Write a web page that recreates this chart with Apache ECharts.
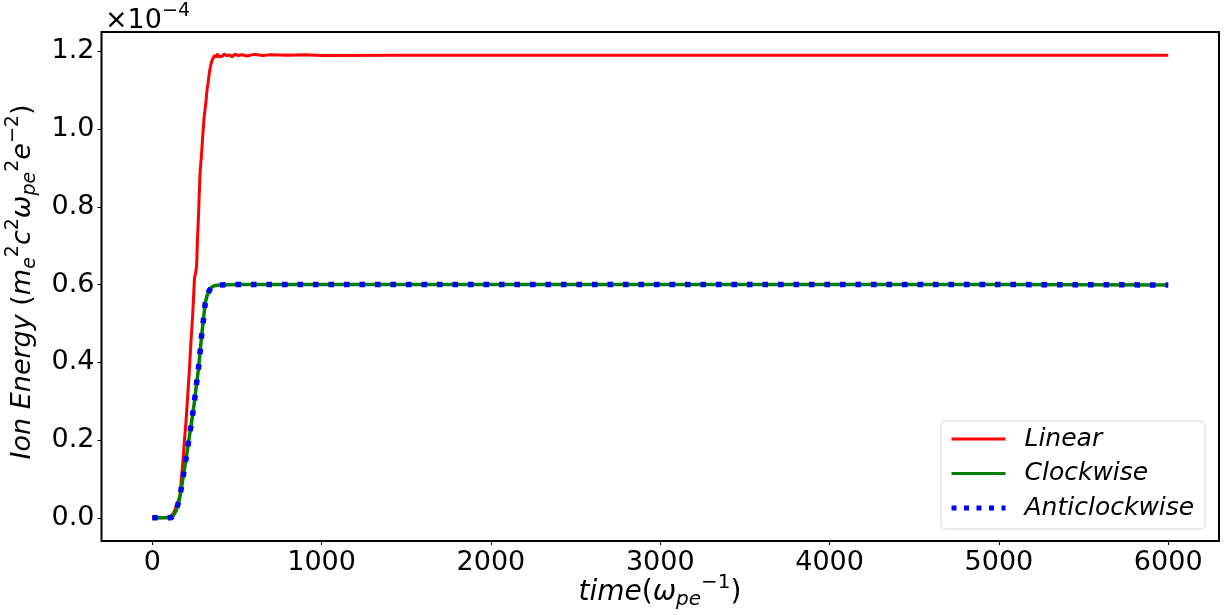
<!DOCTYPE html>
<html>
<head>
<meta charset="utf-8">
<title>Ion Energy</title>
<script src="https://cdn.jsdelivr.net/npm/echarts@6/dist/echarts.min.js"></script>
<style>
    html, body { margin: 0; padding: 0; background: #fff; }
    #chart { width: 1230px; height: 615px; }
</style>
</head>
<body>
<div id="chart"></div>
<script>
// energies are in units of 1e-4 (the x10^-4 sits above the axis)
var linearTime = [0, 40, 80, 110, 125, 134, 150, 163, 172, 180, 190, 200, 210, 219, 228, 238, 245, 249, 256, 262,
    267, 272, 277, 282, 290, 299, 306, 317, 323, 330, 337, 344, 352, 360, 368, 376, 385, 395, 405, 415,
    425, 440, 455, 470, 490, 510, 530, 560, 600, 650, 700, 800, 900, 1000, 1500, 2000, 2500, 3000, 3500, 4000,
    4500, 5000, 5500, 6000];
var linearEnergy = [0, 0, 0.001, 0.004, 0.012, 0.021, 0.04, 0.056, 0.1, 0.141, 0.2, 0.253, 0.32, 0.381, 0.45, 0.518, 0.58, 0.617, 0.63, 0.65,
    0.72, 0.767, 0.83, 0.888, 0.93, 0.99, 1.03, 1.07, 1.1, 1.12, 1.145, 1.162, 1.176, 1.183, 1.19, 1.184, 1.193, 1.186, 1.191, 1.187,
    1.193, 1.188, 1.191, 1.186, 1.192, 1.189, 1.191, 1.188, 1.192, 1.189, 1.191, 1.19, 1.191, 1.189, 1.19, 1.19, 1.19, 1.19, 1.19, 1.19,
    1.19, 1.19, 1.19, 1.19];

var clockTime = [0, 50, 110, 125, 140, 160, 175, 189, 204, 219, 234, 248, 260, 272, 282, 291, 302, 313, 324, 337,
    350, 366, 400, 500, 1000, 2000, 3000, 4000, 5000, 6000];
var clockEnergy = [0, 0, 0, 0.006, 0.018, 0.046, 0.085, 0.124, 0.165, 0.209, 0.252, 0.296, 0.34, 0.381, 0.425, 0.467, 0.51, 0.553, 0.572, 0.585,
    0.593, 0.597, 0.599, 0.6, 0.6, 0.6, 0.6, 0.6, 0.6, 0.599];

var antiTime = [0, 50, 110, 125, 140, 160, 175, 189, 204, 219, 234, 248, 260, 272, 282, 291, 302, 313, 324, 337,
    350, 366, 400, 500, 1000, 2000, 3000, 4000, 5000, 6000];
var antiEnergy = [0, 0, 0, 0.006, 0.019, 0.047, 0.086, 0.125, 0.166, 0.21, 0.253, 0.297, 0.34, 0.382, 0.426, 0.468, 0.51, 0.553, 0.572, 0.585,
    0.593, 0.597, 0.599, 0.6, 0.6, 0.6, 0.6, 0.6, 0.6, 0.599];

var xTicks = [0, 1000, 2000, 3000, 4000, 5000, 6000];
var yTicks = [0, 0.2, 0.4, 0.6, 0.8, 1.0, 1.2];

function pairs(t, v) {
    var out = [];
    for (var i = 0; i < t.length; i++) {
        out.push([t[i], v[i]]);
    }
    return out;
}

var font = 'DejaVu Sans';
var rich = {
    n: { fontFamily: font, fontSize: 27, fontStyle: 'italic', color: '#000' },
    r: { fontFamily: font, fontSize: 27, color: '#000' },
    sub: { fontFamily: font, fontSize: 19, fontStyle: 'italic', color: '#000', padding: [14, 0, 0, 0] },
    sup: { fontFamily: font, fontSize: 19, color: '#000', padding: [0, 0, 20, 0] },
    // x title is a touch bigger in the picture
    xn: { fontFamily: font, fontSize: 28, fontStyle: 'italic', color: '#000' },
    xr: { fontFamily: font, fontSize: 28, color: '#000' },
    xsub: { fontFamily: font, fontSize: 20, fontStyle: 'italic', color: '#000', padding: [14, 0, 0, 0] },
    xsup: { fontFamily: font, fontSize: 20, color: '#000', padding: [0, 0, 20, 0] }
};

var chart = echarts.init(document.getElementById('chart'));
chart.setOption({
    animation: false,
    backgroundColor: '#fff',
    grid: {
        left: 101.5,
        right: 11,
        top: 32,
        bottom: 74,
        show: true,
        borderColor: '#000',
        borderWidth: 2,
        outerBoundsMode: 'none'
    },
    xAxis: {
        type: 'value',
        min: -300,
        max: 6300,
        splitLine: { show: false },
        axisLine: { show: false, onZero: false },
        axisTick: { show: true, length: 4, lineStyle: { color: '#000' }, customValues: xTicks },
        axisLabel: {
            customValues: xTicks,
            fontFamily: font, fontSize: 27, color: '#000', margin: 8,
            formatter: function (v) { return String(v); }
        }
    },
    yAxis: {
        type: 'value',
        min: -0.0595,
        max: 1.2495,
        splitLine: { show: false },
        axisLine: { show: false, onZero: false },
        axisTick: { show: true, length: 4, lineStyle: { color: '#000' }, customValues: yTicks },
        axisLabel: {
            customValues: yTicks,
            fontFamily: font, fontSize: 27, color: '#000', margin: 7,
            formatter: function (v) { return v.toFixed(1); }
        }
    },
    legend: {
        orient: 'vertical',
        left: 941,
        top: 421,
        padding: [5, 11, 8, 8],
        itemWidth: 54,
        itemHeight: 14,
        itemGap: 8.5,
        borderColor: '#d4d4d4',
        borderWidth: 1,
        borderRadius: 5,
        backgroundColor: 'rgba(255,255,255,0.8)',
        itemStyle: { opacity: 0 },
        textStyle: { fontFamily: font, fontSize: 25, fontStyle: 'italic', color: '#000', lineHeight: 26, padding: [0, 0, 0, 14] },
        data: [
            { name: 'Linear', lineStyle: { width: 3 } },
            { name: 'Clockwise', lineStyle: { width: 3 } },
            { name: 'Anticlockwise', lineStyle: { width: 5, type: [5, 7.5] } }
        ]
    },
    series: [
        {
            name: 'Linear',
            type: 'line',
            symbol: 'none',
            color: '#ff0000',
            lineStyle: { width: 3, color: '#ff0000' },
            data: pairs(linearTime, linearEnergy)
        },
        {
            name: 'Clockwise',
            type: 'line',
            symbol: 'none',
            color: '#008000',
            lineStyle: { width: 3.5, color: '#008000' },
            data: pairs(clockTime, clockEnergy)
        },
        {
            name: 'Anticlockwise',
            type: 'line',
            symbol: 'none',
            color: '#0000ff',
            lineStyle: { width: 5.5, color: '#0000ff', type: [5.5, 10], cap: 'butt' },
            data: pairs(antiTime, antiEnergy)
        }
    ],
    graphic: [
        {
            type: 'text',
            x: 105,
            y: 21,
            style: {
                text: '{r|×10}{sup|−4}',
                rich: rich,
                align: 'left',
                verticalAlign: 'middle'
            }
        },
        {
            type: 'text',
            x: 660,
            y: 593,
            style: {
                text: '{xn|time}{xr|(}{xn|ω}{xsub|pe}{xsup|−1}{xr|)}',
                rich: rich,
                align: 'center',
                verticalAlign: 'middle'
            }
        },
        {
            type: 'text',
            x: 23,
            y: 282,
            rotation: Math.PI / 2,
            style: {
                text: '{n|Ion Energy }{r|(}{n|m}{sub|e}{sup|2}{n|c}{sup|2}{n|ω}{sub|pe}{sup|2}{n|e}{sup|−2}{r|)}',
                rich: rich,
                align: 'center',
                verticalAlign: 'middle'
            }
        }
    ]
});
</script>
</body>
</html>
